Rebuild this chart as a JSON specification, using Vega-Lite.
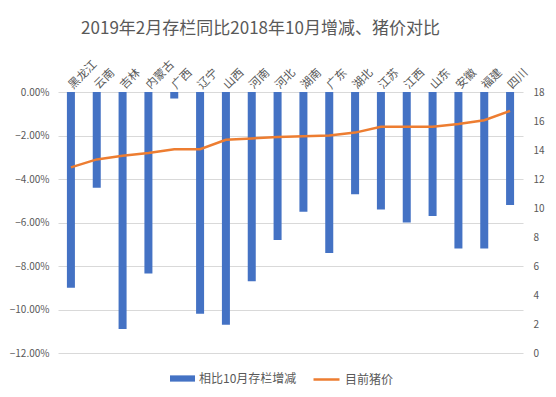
{
  "$schema": "https://vega.github.io/schema/vega-lite/v6.json",
  "width": 465,
  "height": 261,
  "autosize": {"type": "none"},
  "padding": {"left": 58, "top": 92, "right": 33, "bottom": 44},
  "background": "white",
  "title": {
    "text": "2019年2月存栏同比2018年10月增减、猪价对比",
    "font": "Noto Sans CJK SC",
    "fontSize": 17,
    "fontWeight": "normal",
    "color": "#595959",
    "anchor": "middle",
    "frame": "group",
    "dx": -30,
    "offset": 20
  },
  "config": {
    "view": {"stroke": null},
    "font": "Noto Sans CJK SC"
  },
  "data": {
    "values": [
      {"province": "黑龙江", "change": -0.090, "price": 12.8},
      {"province": "云南", "change": -0.044, "price": 13.35},
      {"province": "吉林", "change": -0.109, "price": 13.6},
      {"province": "内蒙古", "change": -0.0835, "price": 13.8},
      {"province": "广西", "change": -0.003, "price": 14.05},
      {"province": "辽宁", "change": -0.102, "price": 14.05},
      {"province": "山西", "change": -0.107, "price": 14.7},
      {"province": "河南", "change": -0.087, "price": 14.8},
      {"province": "河北", "change": -0.068, "price": 14.9},
      {"province": "湖南", "change": -0.055, "price": 14.95},
      {"province": "广东", "change": -0.074, "price": 15.0},
      {"province": "湖北", "change": -0.047, "price": 15.2},
      {"province": "江苏", "change": -0.054, "price": 15.6},
      {"province": "江西", "change": -0.060, "price": 15.6},
      {"province": "山东", "change": -0.057, "price": 15.6},
      {"province": "安徽", "change": -0.072, "price": 15.8},
      {"province": "福建", "change": -0.072, "price": 16.05},
      {"province": "四川", "change": -0.052, "price": 16.7}
    ]
  },
  "encoding": {
    "x": {
      "field": "province",
      "type": "nominal",
      "sort": null,
      "scale": {"paddingInner": 0, "paddingOuter": 0},
      "axis": {
        "orient": "top",
        "title": null,
        "labelAngle": -45,
        "labelAlign": "left",
        "labelBaseline": "middle",
        "labelPadding": 5,
        "labelFontSize": 11.5,
        "labelColor": "#595959",
        "labelOverlap": false,
        "labelBound": false,
        "ticks": false,
        "domain": false
      }
    }
  },
  "layer": [
    {
      "mark": {"type": "bar", "width": {"band": 0.31}},
      "encoding": {
        "y": {
          "field": "change",
          "type": "quantitative",
          "scale": {"domain": [-0.12, 0], "nice": false},
          "axis": {
            "orient": "left",
            "title": null,
            "values": [-0.12, -0.1, -0.08, -0.06, -0.04, -0.02, 0],
            "format": ".2%",
            "labelFontSize": 10,
            "labelColor": "#595959",
            "labelPadding": 9,
            "ticks": false,
            "domain": false,
            "grid": true,
            "gridColor": "#d9d9d9",
            "gridWidth": 1
          }
        },
        "fill": {
          "datum": "相比10月存栏增减",
          "scale": {"range": ["#4472C4"]},
          "legend": {
            "orient": "none",
            "legendX": 112,
            "legendY": 274,
            "title": null,
            "padding": 0,
            "symbolType": "M-1,-0.25H1V0.25H-1Z",
            "symbolSize": 625,
            "symbolStrokeWidth": 0,
            "labelFontSize": 12,
            "labelColor": "#595959",
            "labelOffset": 4
          }
        }
      }
    },
    {
      "mark": {"type": "line", "strokeWidth": 2.5},
      "encoding": {
        "y": {
          "field": "price",
          "type": "quantitative",
          "scale": {"domain": [0, 18], "nice": false},
          "axis": {
            "orient": "right",
            "title": null,
            "values": [0, 2, 4, 6, 8, 10, 12, 14, 16, 18],
            "labelFontSize": 10,
            "labelColor": "#595959",
            "labelPadding": 10,
            "ticks": false,
            "domain": false,
            "grid": false
          }
        },
        "stroke": {
          "datum": "目前猪价",
          "scale": {"range": ["#ED7D31"]},
          "legend": {
            "orient": "none",
            "legendX": 254,
            "legendY": 273,
            "title": null,
            "padding": 0,
            "symbolType": "stroke",
            "symbolSize": 676,
            "symbolStrokeWidth": 2.5,
            "labelFontSize": 12,
            "labelColor": "#595959",
            "labelOffset": 4
          }
        }
      }
    }
  ],
  "resolve": {"scale": {"y": "independent", "fill": "independent", "stroke": "independent"}}
}
